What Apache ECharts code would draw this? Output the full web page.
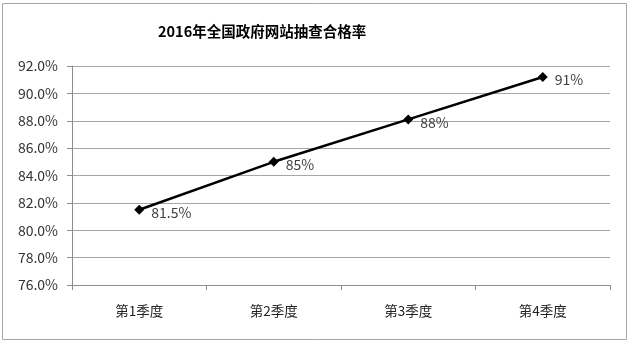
<!DOCTYPE html>
<html><head><meta charset="utf-8">
<script src="https://cdn.jsdelivr.net/npm/echarts@6/dist/echarts.min.js"></script>
<style>html,body{margin:0;padding:0;background:#fff}#c{width:630px;height:344px}</style>
</head><body><div id="c"></div>
<script>
const title = '2016年全国政府网站抽查合格率';
const categories = ['第1季度','第2季度','第3季度','第4季度'];
const values = [81.5, 85.0, 88.1, 91.2];
const pointLabels = ['81.5%','85%','88%','91%'];
const yMin = 76, yMax = 92, yStep = 2;

const chart = echarts.init(document.getElementById('c'), null, {renderer:'canvas'});
const font = '"Noto Sans CJK SC", "Noto Sans", sans-serif';
chart.setOption({
  animation:false,
  backgroundColor:'#fff',
  graphic:[{type:'rect',shape:{x:2.5,y:3.5,width:624,height:336},style:{fill:'none',stroke:'#a6a6a6',lineWidth:1}}],
  title:{text:title,left:153,top:19,textStyle:{fontFamily:font,fontSize:14.5,fontWeight:'bold',color:'#000'}},
  grid:{left:72,right:20,top:66,bottom:59,containLabel:false},
  xAxis:{type:'category',data:categories,boundaryGap:true,
    axisLine:{lineStyle:{color:'#8c8c8c',width:1}},
    axisTick:{show:true,inside:false,length:5,alignWithLabel:false,lineStyle:{color:'#8c8c8c'}},
    axisLabel:{fontFamily:font,fontSize:13.5,color:'#222',margin:19}},
  yAxis:{type:'value',min:yMin,max:yMax,interval:yStep,
    axisLine:{show:true,lineStyle:{color:'#8c8c8c',width:1}},
    axisTick:{show:true,length:5,lineStyle:{color:'#8c8c8c'}},
    splitLine:{lineStyle:{color:'#a6a6a6',width:1}},
    axisLabel:{fontFamily:font,fontSize:14,color:'#333',margin:14,formatter:v=>v.toFixed(1)+'%'}},
  series:[{type:'line',data:values,symbol:'diamond',symbolSize:10,
    lineStyle:{color:'#000',width:2.5},itemStyle:{color:'#000'},
    label:{show:true,position:'right',distance:7,offset:[0,3],fontFamily:font,fontSize:14,color:'#404040',
      formatter:p=>pointLabels[p.dataIndex]}}]
});
</script></body></html>
